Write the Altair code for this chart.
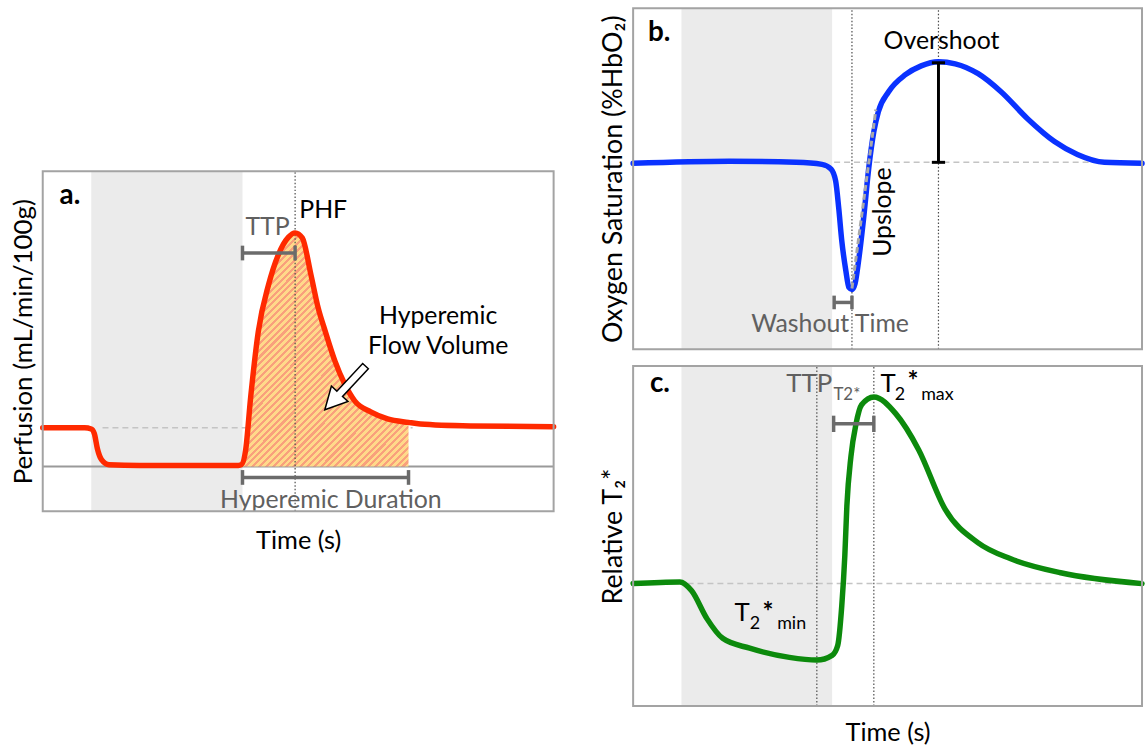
import altair as alt
import pandas as pd

FONT = "Lato"
GREY_TXT = "#606060"
GREY_BAR = "#6b6b6b"
BAND = "#ebebeb"
FRAME = "#a3a3a3"
TXT = 25

# ---------------- panel a: perfusion ----------------
perf_t = [0.0, 8.2, 9.5, 10.1, 10.7, 11.5, 13.0, 18.9, 38.3, 38.9, 39.7, 40.7, 42.2, 44.2,
          46.1, 48.1, 49.4, 50.8, 52.5, 53.9, 55.3, 57.2, 59.1, 61.1, 64.2, 67.5, 71.6,
          73.9, 83.7, 100.0]
perf_v = [10.0, 10.0, 9.7, 8.5, 4.6, 1.8, 0.5, 0.3, 0.3, 0.5, 4.1, 17.9, 34.9, 46.9,
          54.6, 59.2, 60.3, 59.0, 49.5, 41.0, 34.9, 27.2, 21.3, 16.9, 14.1, 12.3, 11.4,
          11.0, 10.5, 10.3]
perf_rest = 10.0
perf_occlusion = [9.5, 39.1]
perf_peak_t = 49.4
perf_hyperemia_end = 71.6
perf_ttp_level = 55.1
perf_duration_level = -2.8
a_xdom = [0, 100]
a_ydom = [-11.5, 76.2]

# ---------------- panel b: oxygen saturation ----------------
sat_t = [0.0, 18.9, 32.0, 37.1, 38.9, 39.8, 40.4, 41.0, 41.8, 42.4, 43.0, 43.6, 44.3,
         45.3, 46.3, 47.3, 48.2, 50.2, 53.5, 56.6, 60.0, 63.3, 67.8, 72.3, 77.5, 82.8,
         87.3, 92.6, 100.0]
sat_v = [54.5, 55.1, 54.8, 54.2, 52.8, 49.3, 41.4, 31.8, 23.0, 18.1, 17.5, 19.2, 25.9,
         38.5, 53.1, 63.8, 69.7, 75.5, 80.5, 83.1, 84.3, 83.7, 80.8, 75.5, 67.6, 60.9,
         57.1, 54.8, 54.5]
sat_rest = 54.8
sat_min_t = 43.0
sat_peak_t = 60.0
sat_peak_v = 84.0
sat_upslope = ([43.0, 47.7], [17.8, 70.3])
sat_washout = [39.5, 43.0]
sat_washout_level = 13.7
b_xdom = [0, 100]
b_ydom = [0, 100]

# ---------------- panel c: relative T2* ----------------
t2_t = [0.0, 9.2, 11.5, 14.5, 17.6, 22.9, 30.7, 36.1, 39.1, 40.2, 41.0, 41.6, 42.0,
        42.8, 43.8, 44.9, 47.3, 51.6, 56.1, 61.3, 67.8, 74.2, 84.0, 100.0]
t2_v = [36.0, 36.5, 33.9, 25.7, 19.9, 17.0, 14.3, 13.5, 14.9, 17.8, 29.5, 44.2, 58.8,
        73.4, 83.0, 88.6, 90.9, 86.0, 75.4, 57.9, 48.0, 43.3, 39.2, 36.0]
t2_rest = 36.0
t2_min_t = 36.1
t2_max_t = 47.3
t2_ttp = [39.4, 47.3]
t2_ttp_level = 83.0
c_xdom = [0, 100]
c_ydom = [0, 100]


def axis(title, pad, size):
    if title is None:
        return None
    return alt.Axis(title=title, labels=False, ticks=False, domain=False, grid=False,
                    titleFont=FONT, titleFontSize=size, titleFontWeight="normal",
                    titleColor="black", titlePadding=pad)


class Panel:
    def __init__(self, xdom, ydom, xtitle, ytitle, xpad=18, ypad=6, ysize=26):
        self.xs = alt.Scale(domain=xdom, nice=False, zero=False)
        self.ys = alt.Scale(domain=ydom, nice=False, zero=False)
        self.xa = axis(xtitle, xpad, 25.5)
        self.ya = axis(ytitle, ypad, ysize)
        self.xdom, self.ydom = xdom, ydom
        self.layers = []

    def X(self, f="t"):
        return alt.X(f, type="quantitative", scale=self.xs, axis=self.xa)

    def Y(self, f="v"):
        return alt.Y(f, type="quantitative", scale=self.ys, axis=self.ya)

    def add(self, df, mark, **enc):
        enc.setdefault("x", self.X())
        enc.setdefault("y", self.Y())
        self.layers.append(mark(alt.Chart(pd.DataFrame(df))).encode(**enc))

    def band(self, t0, t1):
        self.add({"t": [t0], "t2": [t1], "v": [self.ydom[0]], "v2": [self.ydom[1]]},
                 lambda c: c.mark_rect(color=BAND),
                 x2="t2:Q", y2="v2:Q")

    def hline(self, v, t0, t1, color, width=1.5, dash=None):
        kw = dict(color=color, strokeWidth=width)
        if dash:
            kw["strokeDash"] = dash
        self.add({"t": [t0], "t2": [t1], "v": [v]}, lambda c: c.mark_rule(**kw), x2="t2:Q")

    def vline(self, t, v0, v1, color, width=1.2, dash=None):
        kw = dict(color=color, strokeWidth=width)
        if dash:
            kw["strokeDash"] = dash
        self.add({"t": [t], "v": [v0], "v2": [v1]}, lambda c: c.mark_rule(**kw), y2="v2:Q")

    def dotted(self, t):
        self.vline(t, self.ydom[0], self.ydom[1], "#4d4d4d", 1.2, [1.5, 2])

    def hbracket(self, t0, t1, v, half, color, width=3.5):
        self.hline(v, t0, t1, color, width)
        self.add({"t": [t0, t1], "v": [v - half] * 2, "v2": [v + half] * 2},
                 lambda c: c.mark_rule(color=color, strokeWidth=width), y2="v2:Q")

    def vbracket(self, t, v0, v1, half, color, width=3):
        self.vline(t, v0, v1, color, width)
        self.add({"t": [t - half] * 2, "t2": [t + half] * 2, "v": [v0, v1]},
                 lambda c: c.mark_rule(color=color, strokeWidth=width), x2="t2:Q")

    def curve(self, ts, vs, color):
        self.add({"t": ts, "v": vs},
                 lambda c: c.mark_line(color=color, strokeWidth=5.5, interpolate="monotone",
                                       strokeCap="round", strokeJoin="round"))

    def text(self, t, v, s, size=TXT, color="black", weight="normal", align="center", angle=0):
        self.add({"t": [t], "v": [v], "s": [s]},
                 lambda c: c.mark_text(font=FONT, fontSize=size, color=color, fontWeight=weight,
                                       align=align, baseline="alphabetic", angle=angle),
                 text="s:N")

    def frame(self):
        self.add({"t": [self.xdom[0]], "t2": [self.xdom[1]],
                  "v": [self.ydom[0]], "v2": [self.ydom[1]]},
                 lambda c: c.mark_rect(filled=False, stroke=FRAME, strokeWidth=2),
                 x2="t2:Q", y2="v2:Q")

    def chart(self, w, h):
        return alt.layer(*self.layers).properties(width=w, height=h)


# diagonal hatch used for the hyperemic flow volume
n_stripes = 62
hatch_stops = []
for i in range(n_stripes):
    a0, a1, a2 = i / n_stripes, (i + 0.55) / n_stripes, (i + 1) / n_stripes
    hatch_stops += [alt.GradientStop(color="#ffd98a", offset=a0),
                    alt.GradientStop(color="#ffd98a", offset=a1),
                    alt.GradientStop(color="#f9a07c", offset=a1),
                    alt.GradientStop(color="#f9a07c", offset=a2)]
hatch = alt.Gradient(gradient="linear", stops=hatch_stops, x1=0, y1=0, x2=0.86, y2=1.2)

# ---- panel a ----
pa = Panel(a_xdom, a_ydom, "Time (s)", "Perfusion (mL/min/100g)", xpad=18, ysize=26)
pa.band(*perf_occlusion)
pa.hline(0, a_xdom[0], a_xdom[1], "#9a9a9a", 2)
pa.hline(perf_rest, 11.7, 72.4, "#c4c4c4", 1.5, [6, 4])
area_pts = [(t, v) for t, v in zip(perf_t, perf_v) if perf_occlusion[1] - 0.3 <= t <= perf_hyperemia_end]
pa.add({"t": [p[0] for p in area_pts], "v": [p[1] for p in area_pts]},
       lambda c: c.mark_area(color=hatch, interpolate="monotone", opacity=1),
       y2=alt.datum(0))
pa.dotted(perf_peak_t)
pa.curve(perf_t, perf_v, "#ff2a00")
pa.hbracket(perf_occlusion[1], perf_peak_t, perf_ttp_level, 1.9, GREY_BAR)
pa.hbracket(perf_occlusion[1], perf_hyperemia_end, perf_duration_level, 1.9, GREY_BAR)
pa.add({"t": [59.2], "v": [20.3]},
       lambda c: c.mark_point(shape="M0,-1 L0.38,-0.27 L0.13,-0.27 L0.13,1 L-0.13,1 L-0.13,-0.27 L-0.38,-0.27 Z",
                              size=3600, angle=223, filled=True, fill="white",
                              stroke="black", strokeWidth=1.5, opacity=1))
pa.text(3.3, 67.7, "a.", size=28, weight="bold", align="left")
pa.text(44.0, 59.7, "TTP", color=GREY_TXT)
pa.text(54.9, 64.1, "PHF")
pa.text(77.4, 36.9, "Hyperemic")
pa.text(77.4, 29.0, "Flow Volume")
pa.text(56.4, -10.8, "Hyperemic Duration", color=GREY_TXT)
pa.frame()
chart_a = pa.chart(514, 342)

# ---- panel b ----
pb = Panel(b_xdom, b_ydom, None, "Oxygen Saturation (%HbO₂)", ysize=27)
pb.band(*perf_occlusion)
pb.hline(sat_rest, 39.5, 100, "#c4c4c4", 1.5, [6, 4])
pb.dotted(sat_min_t)
pb.dotted(sat_peak_t)
pb.curve(sat_t, sat_v, "#0a32ff")
pb.add({"t": sat_upslope[0], "v": sat_upslope[1]},
       lambda c: c.mark_line(color="#a8a8a8", strokeWidth=3, strokeDash=[6, 3]))
pb.vbracket(sat_peak_t, sat_rest, sat_peak_v, 1.3, "black", 3)
pb.hbracket(sat_washout[0], sat_washout[1], sat_washout_level, 2.0, GREY_BAR, 3.5)
pb.text(2.9, 90.4, "b.", size=28, weight="bold", align="left")
pb.text(60.6, 88.0, "Overshoot")
pb.text(50.6, 40.2, "Upslope", angle=270)
pb.text(38.7, 5.0, "Washout Time", color=GREY_TXT)
pb.frame()
chart_b = pb.chart(512, 343)

# ---- panel c ----
pc = Panel(c_xdom, c_ydom, "Time (s)", "Relative T₂*", xpad=15, ysize=27)
pc.band(*perf_occlusion)
pc.hline(t2_rest, 10.7, 100, "#c4c4c4", 1.5, [6, 4])
pc.dotted(t2_min_t)
pc.dotted(t2_max_t)
pc.curve(t2_t, t2_v, "#0c8a0c")
pc.hbracket(t2_ttp[0], t2_ttp[1], t2_ttp_level, 2.4, GREY_BAR, 3.5)
pc.text(3.3, 92.4, "c.", size=28, weight="bold", align="left")
pc.text(34.6, 92.4, "TTP", size=26, color=GREY_TXT)
pc.text(42.0, 90.1, "T2*", size=17, color=GREY_TXT)
pc.text(48.6, 92.4, "T", size=26, align="left")
pc.text(51.4, 90.1, "2", size=18, align="left")
pc.text(53.9, 93.0, "*", size=26, weight="bold", align="left")
pc.text(56.6, 90.1, "max", size=18, align="left")
pc.text(19.9, 25.1, "T", size=26, align="left")
pc.text(22.9, 22.5, "2", size=18, align="left")
pc.text(25.4, 25.1, "*", size=26, weight="bold", align="left")
pc.text(28.3, 22.5, "min", size=18, align="left")
pc.frame()
chart_c = pc.chart(512, 342)

# empty block that pushes panel a down beside the right column
spacer = alt.Chart(pd.DataFrame({"t": [0], "t2": [1]})).mark_rect(opacity=0).encode(
    x=alt.X("t:Q", axis=None, scale=alt.Scale(domain=[0, 1])), x2="t2:Q",
    y=alt.Y("t:Q", axis=None, scale=alt.Scale(domain=[0, 1])), y2="t2:Q",
).properties(width=1, height=163)

left = alt.vconcat(spacer, chart_a, spacing=0)
right = alt.vconcat(chart_b, chart_c, spacing=15)
chart = alt.hconcat(left, right, spacing=43).properties(
    padding={"left": 11, "top": 5, "right": 0, "bottom": 0}
).configure(font=FONT).configure_view(strokeWidth=0)

chart.save("out.html", embed_options={"renderer": "svg", "actions": False})
